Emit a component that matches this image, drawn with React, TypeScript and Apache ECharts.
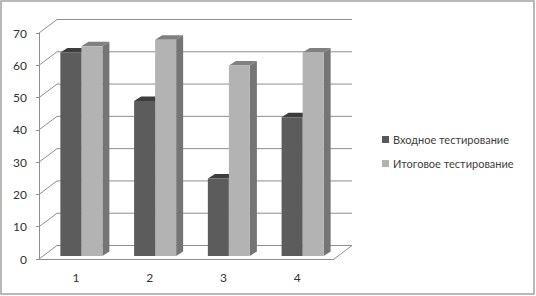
import React, { useEffect, useRef } from "react";
import * as echarts from "echarts";

// Test rounds
const categories = ["1", "2", "3", "4"];
const seriesNames = ["Входное тестирование", "Итоговое тестирование"];
const entryScores = [63, 48, 24, 43];
const finalScores = [65, 67, 59, 63];
const yTicks = [0, 10, 20, 30, 40, 50, 60, 70];

// depth of the wall/floor (back plane offset) and of each bar
const WALL_DX = 18;
const WALL_DY = -13.5;
const BAR_SHIFT_X = 5.5;
const BAR_SHIFT_Y = -3;
const BAR_DX = 7;
const BAR_DY = -4.5;

const palettes = [
  { front: "#5c5c5c", top: "#3d3d3d", side: "#414141" },
  { front: "#b3b3b3", top: "#808080", side: "#757575" },
];

const FONT = "Lato, 'Open Sans', sans-serif";

function makeBarRender(seriesIdx: number) {
  const pal = palettes[seriesIdx];
  return (params: any, api: any) => {
    const idx = api.value(0);
    const val = api.value(1);
    const top = api.coord([idx, val]);
    const base = api.coord([idx, 0]);
    const band = api.size([1, 0])[0];
    const w = band * 0.285;
    const L = top[0] + BAR_SHIFT_X + (seriesIdx === 0 ? -w : 0);
    const R = L + w;
    const T = top[1] + BAR_SHIFT_Y;
    const B = base[1] + BAR_SHIFT_Y;
    return {
      type: "group",
      children: [
        {
          type: "polygon",
          shape: { points: [[R, T], [R + BAR_DX, T + BAR_DY], [R + BAR_DX, B + BAR_DY], [R, B]] },
          style: { fill: pal.side },
        },
        {
          type: "polygon",
          shape: { points: [[L, T], [L + BAR_DX, T + BAR_DY], [R + BAR_DX, T + BAR_DY], [R, T]] },
          style: { fill: pal.top },
        },
        {
          type: "rect",
          shape: { x: L, y: T, width: w, height: B - T },
          style: { fill: pal.front },
        },
      ],
    };
  };
}

function renderWall(params: any, api: any) {
  const v = api.value(1);
  const cs = params.coordSys;
  const x0 = cs.x;
  const x1 = cs.x + cs.width;
  const y = api.coord([0, v])[1];
  const stroke = { stroke: "#8e8e8e", lineWidth: 1 };
  const children: any[] = [
    {
      type: "line",
      shape: { x1: x0 + WALL_DX, y1: y + WALL_DY, x2: x1 + WALL_DX, y2: y + WALL_DY },
      style: stroke,
    },
    {
      type: "line",
      shape: { x1: x0, y1: y, x2: x0 + WALL_DX, y2: y + WALL_DY },
      style: stroke,
    },
  ];
  if (v === 0) {
    children.push({
      type: "line",
      shape: { x1: x1, y1: y, x2: x1 + WALL_DX, y2: y + WALL_DY },
      style: stroke,
    });
  }
  return { type: "group", children };
}

export default function App() {
  const ref = useRef<HTMLDivElement>(null);
  useEffect(() => {
    if (!ref.current) return;
    const chart = echarts.init(ref.current, undefined, { renderer: "svg" });
    chart.setOption({
      animation: false,
      backgroundColor: "#ffffff",
      graphic: [
        {
          type: "rect",
          shape: { x: 1, y: 1, width: 533, height: 293 },
          style: { fill: "none", stroke: "#a3a3a3", lineWidth: 1.5 },
          silent: true,
        },
      ],
      legend: {
        orient: "vertical",
        left: 377,
        top: 129,
        itemWidth: 7,
        itemHeight: 7,
        itemGap: 13,
        icon: "rect",
        textStyle: { fontFamily: FONT, fontSize: 11, color: "#404040", padding: [0, 0, 0, -1] },
        data: seriesNames,
      },
      grid: { left: 39, top: 33, width: 295, height: 226 },
      xAxis: {
        type: "category",
        data: categories,
        boundaryGap: true,
        axisLine: { lineStyle: { color: "#8e8e8e" } },
        axisTick: { length: 4, lineStyle: { color: "#8e8e8e" } },
        axisLabel: { fontFamily: FONT, fontSize: 12, color: "#333333", margin: 12 },
        splitLine: { show: false },
      },
      yAxis: {
        type: "value",
        min: 0,
        max: 70,
        interval: 10,
        axisLine: { show: true, lineStyle: { color: "#8e8e8e" } },
        axisTick: { show: true, length: 3, lineStyle: { color: "#8e8e8e" } },
        axisLabel: { fontFamily: FONT, fontSize: 12, color: "#333333", margin: 12 },
        splitLine: { show: false },
      },
      series: [
        {
          type: "custom",
          name: "wall",
          silent: true,
          z: 1,
          renderItem: renderWall,
          encode: { x: 0, y: 1 },
          data: yTicks.map((v) => [0, v]),
        },
        {
          type: "custom",
          name: seriesNames[0],
          z: 2,
          itemStyle: { color: "#595959" },
          renderItem: makeBarRender(0),
          encode: { x: 0, y: 1 },
          data: entryScores.map((v, i) => [i, v]),
        },
        {
          type: "custom",
          name: seriesNames[1],
          z: 3,
          itemStyle: { color: "#b2b2b2" },
          renderItem: makeBarRender(1),
          encode: { x: 0, y: 1 },
          data: finalScores.map((v, i) => [i, v]),
        },
      ],
    });
    return () => chart.dispose();
  }, []);
  return (
    <div
      ref={ref}
      style={{ position: "fixed", left: 0, top: 0, width: 536, height: 296 }}
    />
  );
}
